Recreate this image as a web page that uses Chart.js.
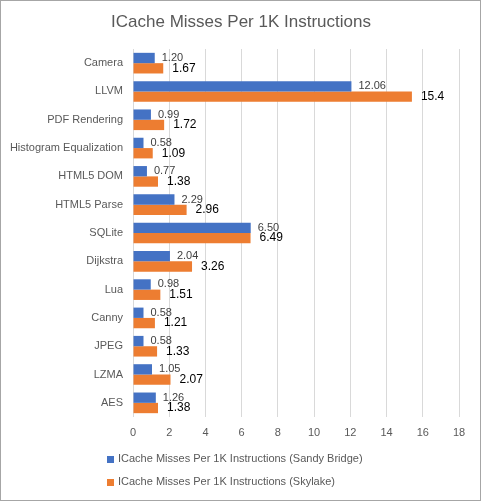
<!DOCTYPE html>
<html>
<head>
<meta charset="utf-8">
<script src="https://cdn.jsdelivr.net/npm/chart.js@4.4.1/dist/chart.umd.min.js"></script>
<style>
html,body{margin:0;padding:0;background:#fff;}
#wrap{width:481px;height:501px;box-sizing:border-box;border:1px solid #a6a6a6;background:#fff;}
canvas{display:block;}
</style>
</head>
<body>
<div id="wrap"><canvas id="c" width="479" height="499"></canvas></div>
<script>
const categories = ["Camera","LLVM","PDF Rendering","Histogram Equalization","HTML5 DOM","HTML5 Parse","SQLite","Dijkstra","Lua","Canny","JPEG","LZMA","AES"];
const sandyBridge = [1.20,12.06,0.99,0.58,0.77,2.29,6.50,2.04,0.98,0.58,0.58,1.05,1.26];
const skylake = [1.67,15.4,1.72,1.09,1.38,2.96,6.49,3.26,1.51,1.21,1.33,2.07,1.38];
const xTicks = [0,2,4,6,8,10,12,14,16,18];
const seriesNames = ["ICache Misses Per 1K Instructions (Sandy Bridge)","ICache Misses Per 1K Instructions (Skylake)"];
const titleText = "ICache Misses Per 1K Instructions";

const FONT = "'Liberation Sans', Arial, sans-serif";

const labelPlugin = {
  id: 'barLabels',
  afterDatasetsDraw(chart) {
    const ctx = chart.ctx;
    ctx.save();
    ctx.textBaseline = 'middle';
    ctx.textAlign = 'left';
    chart.data.datasets.forEach((ds, i) => {
      const meta = chart.getDatasetMeta(i);
      meta.data.forEach((el, j) => {
        const v = ds.data[j];
        const txt = i === 0 ? v.toFixed(2) : String(v);
        ctx.font = (i === 0 ? '11px ' : '12px ') + FONT;
        ctx.fillStyle = i === 0 ? '#404040' : '#000000';
        ctx.fillText(txt, el.x + (i === 0 ? 7 : 9), el.y);
      });
    });
    ctx.restore();
  }
};

const titleLegendPlugin = {
  id: 'titleLegend',
  afterDraw(chart) {
    const ctx = chart.ctx;
    ctx.save();
    ctx.textBaseline = 'middle';
    ctx.textAlign = 'center';
    ctx.font = '17px ' + FONT;
    ctx.fillStyle = '#595959';
    ctx.fillText(titleText, 240, 21);
    ctx.textAlign = 'left';
    ctx.font = '11px ' + FONT;
    const ys = [458, 481];
    chart.data.datasets.forEach((ds, i) => {
      ctx.fillStyle = ds.backgroundColor;
      ctx.fillRect(106, ys[i] - 3, 7, 7);
      ctx.fillStyle = '#595959';
      ctx.fillText(ds.label, 117, ys[i]);
    });
    ctx.restore();
  }
};

new Chart(document.getElementById('c'), {
  type: 'bar',
  data: {
    labels: categories,
    datasets: [
      {label: seriesNames[0], data: sandyBridge, backgroundColor: '#4472C4', categoryPercentage: 0.73, barPercentage: 1.0},
      {label: seriesNames[1], data: skylake, backgroundColor: '#ED7D31', categoryPercentage: 0.73, barPercentage: 1.0}
    ]
  },
  options: {
    indexAxis: 'y',
    responsive: false,
    animation: false,
    devicePixelRatio: 1,
    layout: {padding: {left: 0, right: 21, top: 48, bottom: 63}},
    plugins: {
      legend: {display: false},
      tooltip: {enabled: false},
      title: {display: false}
    },
    scales: {
      x: {
        min: 0, max: 18,
        afterBuildTicks(scale) { scale.ticks = xTicks.map(v => ({value: v})); },
        afterFit(scale) { scale.height = 20; },
        grid: {color: '#d9d9d9', drawTicks: false, lineWidth: 1},
        border: {display: false},
        ticks: {color: '#595959', font: {family: FONT, size: 11}, padding: 9}
      },
      y: {
        afterFit(scale) { scale.width = 132; },
        grid: {display: false, drawTicks: false},
        border: {display: false},
        ticks: {color: '#595959', font: {family: FONT, size: 11}, padding: 10}
      }
    }
  },
  plugins: [labelPlugin, titleLegendPlugin]
});
</script>
</body>
</html>
